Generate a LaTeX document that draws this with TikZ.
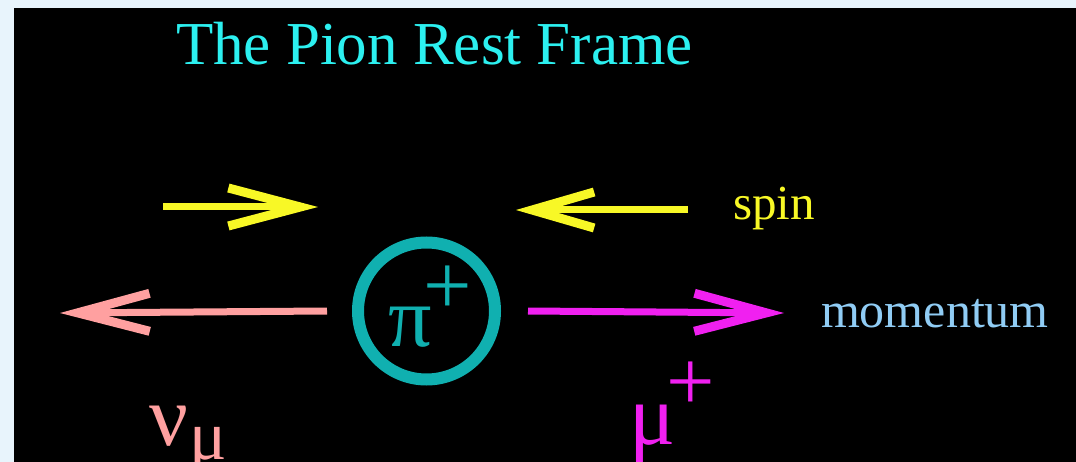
\documentclass[tikz,border=0pt]{standalone}
\usepackage{fontspec}
\setmainfont{Liberation Serif}
\usetikzlibrary{arrows.meta}
\definecolor{bgblue}{HTML}{E8F4FC}
\definecolor{titlecyan}{HTML}{2CF0F0}
\definecolor{spinyellow}{HTML}{F8F826}
\definecolor{nupink}{HTML}{FFA0A0}
\definecolor{muma}{HTML}{F020F0}
\definecolor{pionteal}{HTML}{10B0B0}
\definecolor{momblue}{HTML}{90CCF4}
\newcommand\bigGreek{\fontsize{86}{86}\selectfont}
\newcommand\smallGreek{\fontsize{70}{70}\selectfont}
\begin{document}
\begin{tikzpicture}[x=1pt,y=-1pt,
  txt/.style={anchor=base west, inner sep=0pt, outer sep=0pt},
  shaft/.style={line width=7pt},
  longhead/.style={shaft, -{Straight Barb[length=72pt, width=38pt, line width=9pt]}},
  shorthead/.style={shaft, -{Straight Barb[length=62pt, width=36pt, line width=9pt]}}]
\useasboundingbox (0,0) rectangle (1076,462);
\fill[bgblue] (0,0) rectangle (1076,462);
\fill[black] (14,8) rectangle (1076,462);

% title
\node[txt, text=titlecyan, font=\fontsize{61}{61}\selectfont] (title) at (176,65) {The Pion Rest Frame};

% pion
\node[circle, draw=pionteal, line width=12pt, minimum size=137pt, inner sep=0pt] (pion) at (426.5,311) {};
\node[txt, text=pionteal, font=\bigGreek] (pilabel) at (388,346) {π\kern-8pt\raisebox{32pt}{+}};

% spin arrows
\coordinate (sLs) at (163,207);
\coordinate (sLe) at (318,207);
\coordinate (sRs) at (688,210);
\coordinate (sRe) at (516,210);
\draw[longhead, spinyellow] (sLs) -- (sLe);
\draw[shorthead, spinyellow] (sRs) -- (sRe);
\node[txt, text=spinyellow, font=\fontsize{49}{49}\selectfont] (spin) at (733,220) {spin};

% momentum arrows
\coordinate (nuTip) at (60,313);
\coordinate (muTip) at (784,313);
\draw[longhead, nupink] ([xshift=-25pt]pion.west) -- (nuTip);
\draw[longhead, muma] ([xshift=27pt]pion.east) -- (muTip);
\node[txt, text=momblue, font=\fontsize{50}{52}\selectfont] (mom) at (821,327) {momentum};

% particle labels
\node[txt, text=nupink, font=\bigGreek] (nu) at (149,445) {ν\kern2pt\raisebox{-14pt}{\smallGreek μ}};
\node[txt, text=muma, font=\bigGreek] (mu) at (629,444) {μ\kern-9pt\raisebox{34pt}{+}};
\end{tikzpicture}
\end{document}
